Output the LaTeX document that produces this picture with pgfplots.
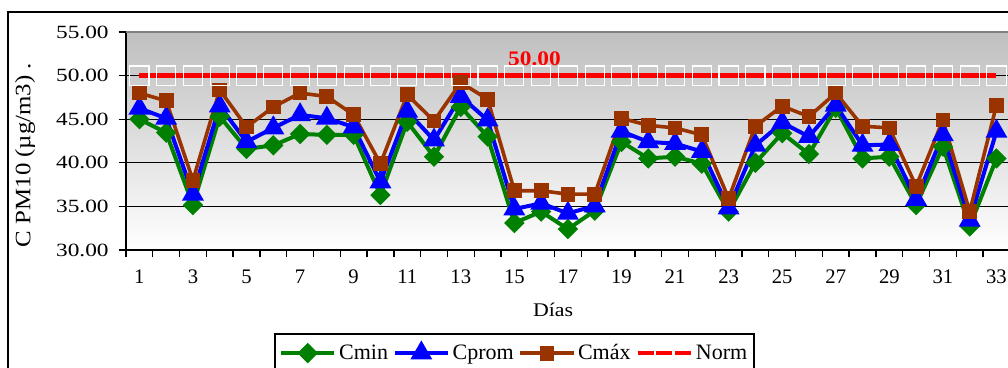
\documentclass[border=0pt]{standalone}
\usepackage{fontspec}
\setmainfont{Liberation Serif}
\newfontfamily\ytfont{Liberation Serif}[FakeStretch=1.25]
\newfontfamily\labfont{Liberation Serif}[FakeStretch=1.13]
\usepackage{pgfplots}
\pgfplotsset{compat=1.18}
\definecolor{cgreen}{RGB}{0,128,0}
\definecolor{cblue}{RGB}{0,0,255}
\definecolor{cbrown}{RGB}{153,51,0}
\definecolor{cred}{RGB}{255,0,0}
\begin{document}
\begin{tikzpicture}
\path[use as bounding box] (0pt,0pt) rectangle (756pt,276pt);
\clip (0pt,0pt) rectangle (756pt,276pt);
\draw[line width=1.1pt] (6pt,-20pt) rectangle (800pt,267pt);
\begin{axis}[
 at={(94.5pt,88.5pt)}, anchor=south west,
 scale only axis, width=664.5pt, height=163.5pt,
 xmin=0.5, xmax=33.58, ymin=30, ymax=55,
 clip=false,
 axis x line*=bottom, axis y line*=left,
 axis line style={-, line width=1.1pt},
 axis background/.style={shade, top color=black!25, bottom color=white},
 ytick={30,35,...,55},
 ymajorgrids, grid style={black, line width=0.8pt},
 xtick={0.5,1.5,...,33.5}, xticklabels={},
 extra x ticks={1,3,...,33},
 extra x tick labels={1,3,5,7,9,11,13,15,17,19,21,23,25,27,29,31,33},
 extra x tick style={major tick length=0pt, grid=none},
 tick align=outside, major tick length=5.5pt,
 tick style={black, line width=1pt},
 font=\fontsize{15}{18}\selectfont,
 /pgf/number format/assume math mode=true,
 xticklabel style={font=\fontsize{15.5}{18}\selectfont, yshift=-11.5pt},
 yticklabel style={font=\ytfont\fontsize{14}{17}\selectfont, xshift=-4pt,
   /pgf/number format/.cd, fixed, fixed zerofill, precision=2},
 xlabel={Días},
 ylabel={C PM10 (µg/m3) .},
 every axis x label/.style={at={(axis description cs:0.482,-0.275)}, anchor=center,
   font=\labfont\fontsize{14.5}{17}\selectfont},
 every axis y label/.style={at={(axis description cs:-0.114,0.436)}, rotate=90, anchor=center,
   font=\labfont\fontsize{16.5}{19}\selectfont},
 legend columns=4,
 legend style={at={(axis description cs:0.4385,-0.381)}, anchor=north,
   draw=black, line width=1.1pt, inner ysep=6pt, font=\fontsize{16.5}{19}\selectfont,
   /tikz/every even column/.append style={column sep=1.5pt}},
 legend image code/.code={\draw[mark repeat=2,mark phase=2,#1] plot coordinates {(0pt,0pt) (20pt,0pt) (40pt,0pt)};},
]
\addplot[cgreen, line width=3pt, mark=square*, mark size=3.9pt, mark options={rotate=45, solid}] coordinates {
(1,45.0) (2,43.45) (3,35.15) (4,45.3) (5,41.6) (6,42.0) (7,43.3) (8,43.2) (9,43.2) (10,36.3)
(11,44.7) (12,40.7) (13,46.4) (14,43.0) (15,33.1) (16,34.4) (17,32.4) (18,34.5) (19,42.4) (20,40.5)
(21,40.7) (22,39.9) (23,34.4) (24,40.0) (25,43.4) (26,41.0) (27,46.3) (28,40.5) (29,40.7) (30,35.15)
(31,41.85) (32,32.7) (33,40.5)};
\addlegendentry{Cmin}
\addplot[cblue, line width=3pt, mark=triangle*, mark size=6.5pt, mark options={solid}] coordinates {
(1,46.25) (2,45.1) (3,36.4) (4,46.5) (5,42.4) (6,44.0) (7,45.5) (8,45.1) (9,44.1) (10,37.8)
(11,45.9) (12,42.6) (13,47.6) (14,44.9) (15,34.7) (16,35.35) (17,34.2) (18,35.05) (19,43.6) (20,42.4)
(21,42.2) (22,41.3) (23,34.8) (24,42.0) (25,44.6) (26,43.0) (27,46.6) (28,42.0) (29,42.1) (30,35.8)
(31,43.2) (32,33.4) (33,43.6)};
\addlegendentry{Cprom}
\addplot[cbrown, line width=2.7pt, mark=square*, mark size=4.2pt, mark options={solid}] coordinates {
(1,48.0) (2,47.1) (3,38.0) (4,48.35) (5,44.1) (6,46.4) (7,48.0) (8,47.6) (9,45.5) (10,39.9)
(11,47.8) (12,44.8) (13,49.2) (14,47.3) (15,36.8) (16,36.8) (17,36.4) (18,36.4) (19,45.1) (20,44.3)
(21,44.0) (22,43.2) (23,35.9) (24,44.2) (25,46.5) (26,45.3) (27,48.0) (28,44.2) (29,44.0) (30,37.3)
(31,44.9) (32,34.4) (33,46.6)};
\addlegendentry{Cmáx}
\addplot[cred, line width=3.5pt, mark=square, mark size=7.2pt, mark options={draw=white, line width=0.8pt, solid},
 legend image code/.code={\draw[cred, line width=3.5pt, dash pattern=on 12pt off 2pt] (0pt,0pt) -- (40pt,0pt);}] coordinates {
(1,50) (2,50) (3,50) (4,50) (5,50) (6,50) (7,50) (8,50) (9,50) (10,50)
(11,50) (12,50) (13,50) (14,50) (15,50) (16,50) (17,50) (18,50) (19,50) (20,50)
(21,50) (22,50) (23,50) (24,50) (25,50) (26,50) (27,50) (28,50) (29,50) (30,50)
(31,50) (32,50) (33,50)};
\addlegendentry{Norm}
\draw[black!50, line width=1.5pt] (rel axis cs:0,1) -- (rel axis cs:1,1);
\node[text=cred, font=\labfont\bfseries\fontsize{15.5}{18}\selectfont] at (axis cs:15.75,51.94) {50.00};
\end{axis}
\end{tikzpicture}
\end{document}
